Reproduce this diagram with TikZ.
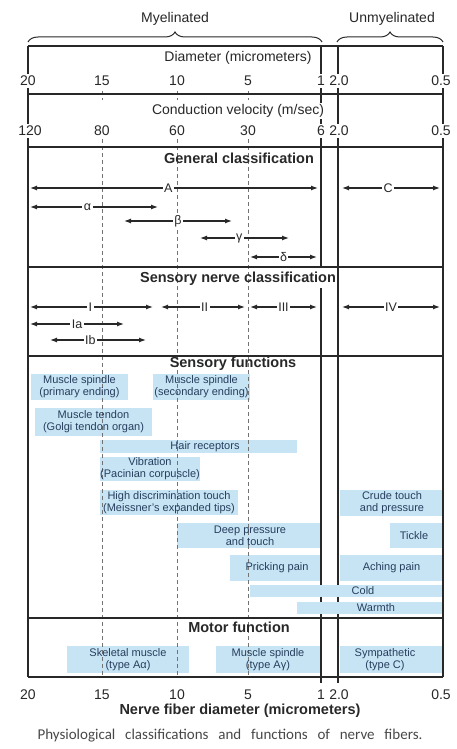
\documentclass[tikz,border=0pt]{standalone}
\usepackage{fontspec}
\setmainfont{Liberation Sans}
\newfontfamily\capfont{Carlito}
\usetikzlibrary{arrows.meta,decorations.pathreplacing}
\definecolor{barblue}{RGB}{199,228,245}
\definecolor{bartext}{RGB}{38,62,92}
\definecolor{rule}{RGB}{40,40,40}
\definecolor{dashgray}{RGB}{115,115,115}

\begin{document}
\begin{tikzpicture}[x=1pt,y=-1pt]
  \tikzstyle{frameline} = [draw=rule,line width=1.7pt]
  \tikzstyle{divider}   = [draw=rule,line width=1.1pt]
  \tikzstyle{gridline}  = [draw=dashgray,line width=1pt,dash pattern=on 4pt off 3pt]
  \tikzstyle{fbar}      = [fill=barblue]
  \tikzstyle{bartxt}    = [text=bartext,font=\fontsize{11}{12}\selectfont,align=center,inner sep=0pt]
  \tikzstyle{numtxt}    = [fill=white,text=rule,font=\fontsize{14}{14}\selectfont,inner sep=2pt]
  \tikzstyle{labtxt}    = [fill=white,text=rule,font=\fontsize{14}{14}\selectfont,inner sep=1pt]
  \tikzstyle{headtxt}   = [text=rule,font=\bfseries\fontsize{14.5}{15}\selectfont,inner sep=0pt]
  \tikzstyle{rangearrow} = [<->,>={Latex[length=7pt,width=5pt]},draw=rule,line width=1.2pt]
  \tikzstyle{rangetag}  = [fill=white,text=rule,font=\fontsize{12.5}{12.5}\selectfont,inner sep=1.5pt]
  \tikzstyle{bracepath} = [draw=rule,line width=1pt,decorate,decoration={brace,amplitude=10pt}]
  \useasboundingbox (0,0) rectangle (457,749);

  % solid lines at 1 and 2.0
  \draw[divider] (321,46)  -- (321,267);
  \draw[divider] (321,288) -- (321,683);
  \draw[divider] (338,46)  -- (338,683);

  % sensory function bars
  \fill[fbar] (31,374)  rectangle (128,400);
  \fill[fbar] (153,374) rectangle (250,400);
  \fill[fbar] (35,408)  rectangle (152,436);
  \fill[fbar] (100,440) rectangle (297,453);
  \fill[fbar] (100,457) rectangle (200,481);
  \fill[fbar] (100,490) rectangle (238,515);
  \fill[fbar] (340,490) rectangle (443,516);
  \fill[fbar] (177,523) rectangle (319.5,548);
  \fill[fbar] (390,523) rectangle (443,548);
  \fill[fbar] (230,555) rectangle (319.5,581);
  \fill[fbar] (340,555) rectangle (443,581);
  \fill[fbar] (250,585) rectangle (443,597);
  \fill[fbar] (297,602) rectangle (443,614);
  % motor function bars
  \fill[fbar] (67,646)  rectangle (189,673);
  \fill[fbar] (216,646) rectangle (319.5,673);
  \fill[fbar] (340,646) rectangle (443,673);

  % dashed lines at 15, 10, 5
  \draw[gridline] (102,91) -- (102,100);
  \draw[gridline] (177,91) -- (177,100);
  \draw[gridline] (248,91) -- (248,100);
  \draw[gridline] (102,139) -- (102,677);
  \draw[gridline] (177,139) -- (177,677);
  \draw[gridline] (248,139) -- (248,677);

  % frame
  \draw[frameline] (28,46) -- (443,46);
  \draw[frameline] (28,46) -- (28,677);
  \draw[frameline] (443,46) -- (443,677);
  \draw[frameline] (28,94) -- (443,94);
  \draw[frameline] (28,147) -- (443,147);
  \draw[frameline] (28,267) -- (443,267);
  \draw[frameline] (28,356) -- (443,356);
  \draw[frameline] (28,618) -- (443,618);
  \draw[frameline] (28,677) -- (443,677);

  % braces
  \draw[bracepath] (28,42) -- (322,42);
  \draw[bracepath] (337,42) -- (443,42);
  \path (175,19) node[labtxt](myel) {Myelinated};
  \path (392,19) node[labtxt](unmyel) {Unmyelinated};

  % diameter scale
  \path (238,58) node[labtxt](diam) {Diameter (micrometers)};
  \path (28,81)  node[numtxt](d20) {20};
  \path (102,81) node[numtxt](d15) {15};
  \path (177,81) node[numtxt](d10) {10};
  \path (248,81) node[numtxt](d5)  {5};
  \path (321,81) node[numtxt](d1)  {1};
  \path (339,81) node[numtxt](d2)  {2.0};
  \path (441,81) node[numtxt](d05) {0.5};

  % velocity scale
  \path (238,111) node[labtxt](velo) {Conduction velocity (m/sec)};
  \path (30,131)  node[numtxt](v120) {120};
  \path (102,131) node[numtxt](v80)  {80};
  \path (177,131) node[numtxt](v60)  {60};
  \path (248,131) node[numtxt](v30)  {30};
  \path (321,131) node[numtxt](v6)   {6};
  \path (339,131) node[numtxt](v2)   {2.0};
  \path (441,131) node[numtxt](v05)  {0.5};

  % general classification
  \path (239,158) node[headtxt](gen) {General classification};
  \path (30,188) coordinate(A-l) (318,188) coordinate(A-r);
  \draw[rangearrow] (A-l) -- (A-r) node[rangetag,pos=0.48](A-t) {A};
  \path (342,188) coordinate(C-l) (440,188) coordinate(C-r);
  \draw[rangearrow] (C-l) -- (C-r) node[rangetag,pos=0.47](C-t) {C};
  \path (30,207) coordinate(al-l) (158,207) coordinate(al-r);
  \draw[rangearrow] (al-l) -- (al-r) node[rangetag,pos=0.45](al-t) {α};
  \path (124,221) coordinate(be-l) (232,221) coordinate(be-r);
  \draw[rangearrow] (be-l) -- (be-r) node[rangetag,midway](be-t) {β};
  \path (200,238) coordinate(ga-l) (289,238) coordinate(ga-r);
  \draw[rangearrow] (ga-l) -- (ga-r) node[rangetag,pos=0.44](ga-t) {γ};
  \path (250,257) coordinate(de-l) (317,257) coordinate(de-r);
  \draw[rangearrow] (de-l) -- (de-r) node[rangetag,midway](de-t) {δ};

  % sensory nerve classification
  \path (238,279) node[headtxt](sens) {Sensory nerve classification};
  \path (30,307) coordinate(I-l) (153,307) coordinate(I-r);
  \draw[rangearrow] (I-l) -- (I-r) node[rangetag,pos=0.49](I-t) {I};
  \path (161,307) coordinate(II-l) (245,307) coordinate(II-r);
  \draw[rangearrow] (II-l) -- (II-r) node[rangetag,pos=0.52](II-t) {II};
  \path (250,307) coordinate(III-l) (317,307) coordinate(III-r);
  \draw[rangearrow] (III-l) -- (III-r) node[rangetag,midway](III-t) {III};
  \path (342,307) coordinate(IV-l) (440,307) coordinate(IV-r);
  \draw[rangearrow] (IV-l) -- (IV-r) node[rangetag,midway](IV-t) {IV};
  \path (30,324) coordinate(Ia-l) (124,324) coordinate(Ia-r);
  \draw[rangearrow] (Ia-l) -- (Ia-r) node[rangetag,midway](Ia-t) {Ia};
  \path (50,340) coordinate(Ib-l) (146,340) coordinate(Ib-r);
  \draw[rangearrow] (Ib-l) -- (Ib-r) node[rangetag,pos=0.42](Ib-t) {Ib};

  % sensory functions
  \path (233,364) node[headtxt](func) {Sensory functions};
  \path (79.5,387)  node[bartxt](spinI)  {Muscle spindle\\(primary ending)};
  \path (201.5,387) node[bartxt](spinII) {Muscle spindle\\(secondary ending)};
  \path (93.5,422)  node[bartxt](tendon) {Muscle tendon\\(Golgi tendon organ)};
  \path (205,446.5) node[bartxt](hair)   {Hair receptors};
  \path (150,469)   node[bartxt](vib)    {Vibration\\(Pacinian corpuscle)};
  \path (169,502.5) node[bartxt](meiss)  {High discrimination touch\\(Meissner's expanded tips)};
  \path (392,503)   node[bartxt](crude)  {Crude touch\\and pressure};
  \path (250,535.5) node[bartxt](deep)   {Deep pressure\\and touch};
  \path (414,535.5) node[bartxt](tickle) {Tickle};
  \path (277,568)   node[bartxt](prick)  {Pricking pain};
  \path (391.5,568) node[bartxt](ache)   {Aching pain};
  \path (363,591)   node[bartxt](cold)   {Cold};
  \path (376,608)   node[bartxt](warm)   {Warmth};

  % motor function
  \path (239,627)   node[headtxt](motor)  {Motor function};
  \path (128,659.5) node[bartxt](skel)   {Skeletal muscle\\(type Aα)};
  \path (268,659.5) node[bartxt](mspin)  {Muscle spindle\\(type Aγ)};
  \path (385,659.5) node[bartxt](symp)   {Sympathetic\\(type C)};

  % bottom scale
  \path (28,695)  node[numtxt](b20) {20};
  \path (102,695) node[numtxt](b15) {15};
  \path (177,695) node[numtxt](b10) {10};
  \path (248,695) node[numtxt](b5)  {5};
  \path (321,695) node[numtxt](b1)  {1};
  \path (339,695) node[numtxt](b2)  {2.0};
  \path (441,695) node[numtxt](b05) {0.5};
  \path (240,711) node[headtxt](axis) {Nerve fiber diameter (micrometers)};

  \path (230,736) node[inner sep=0pt,text=rule!85](figcap)
    {\capfont\fontsize{15}{16}\selectfont\makebox[385pt][s]{Physiological classifications and functions of nerve fibers.}};
\end{tikzpicture}
\end{document}
